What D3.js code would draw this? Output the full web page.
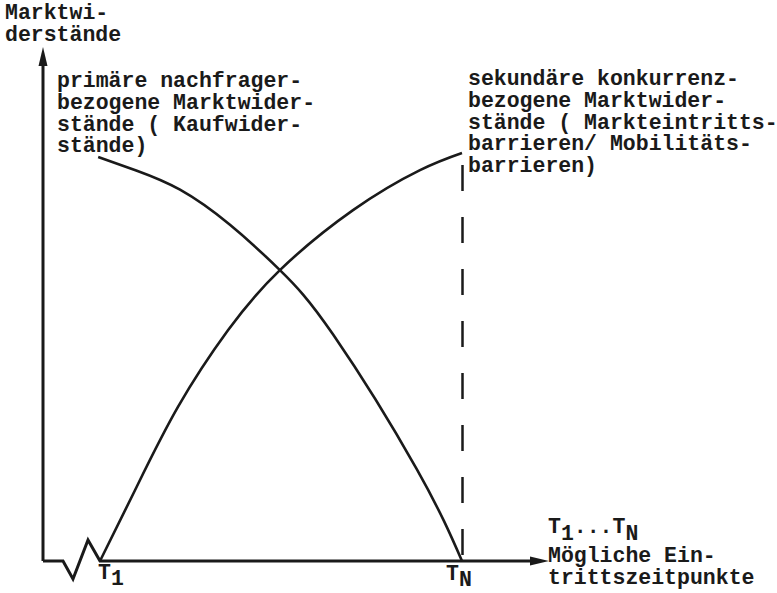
<!DOCTYPE html>
<html>
<head>
<meta charset="utf-8">
<script src="https://cdn.jsdelivr.net/npm/d3@7"></script>
<style>
  body { margin: 0; background: #fff; }
  text { font-family: "Courier New", Courier, "Nimbus Mono PS", FreeMono, "Liberation Mono", monospace; font-weight: bold; font-size: 21.5px; fill: #1a1a1a; }
</style>
</head>
<body>
<svg id="chart"></svg>
<script>
// time axis: 0 = T1, 10 = TN ; resistance in arbitrary units
const primaryX = [-0.05, 1.0, 2.21, 3.59, 4.97, 6.44, 8.75, 10];
const primaryY = [99, 95.7, 91, 82.4, 71.3, 55.5, 22.5, 0];
const secondaryX = [0, 0.97, 2.15, 3.54, 4.97, 6.99, 8.84, 10];
const secondaryY = [0, 17.4, 37.7, 56.6, 71.3, 86, 95.8, 100];

const yTitle = ['Marktwi-', 'derstände'];
const primaryLabel = ['primäre nachfrager-', 'bezogene Marktwider-', 'stände ( Kaufwider-', 'stände)'];
const secondaryLabel = ['sekundäre konkurrenz-', 'bezogene Marktwider-', 'stände ( Markteintritts-', 'barrieren/ Mobilitäts-', 'barrieren)'];
const xTitle = ['Mögliche Ein-', 'trittszeitpunkte'];

const svg = d3.select('#chart').attr('width', 777).attr('height', 593);

const x = d3.scaleLinear().domain([0, 10]).range([100, 462]);
const y = d3.scaleLinear().domain([0, 100]).range([561, 153]);
const ink = '#1a1a1a';

const line = d3.line()
  .x(d => x(d[0]))
  .y(d => y(d[1]))
  .curve(d3.curveNatural);

// axes
svg.append('path')
  .attr('d', `M43,${y(0)} L43,62`)
  .attr('stroke', ink).attr('stroke-width', 3).attr('fill', 'none');
svg.append('path')
  .attr('d', 'M43,47 L38.5,66 L47.5,66 Z')
  .attr('fill', ink);

svg.append('path')
  .attr('d', `M43,${y(0)} L63,${y(0)} L73,579 L88,540 L${x(0)},${y(0)} L532,${y(0)}`)
  .attr('stroke', ink).attr('stroke-width', 3).attr('fill', 'none').attr('stroke-linejoin', 'miter');
svg.append('path')
  .attr('d', `M549,${y(0)} L530,${y(0) - 4.5} L530,${y(0) + 4.5} Z`)
  .attr('fill', ink);

// dashed line at TN
svg.append('line')
  .attr('x1', x(10) + 0.5).attr('x2', x(10) + 0.5)
  .attr('y1', 165).attr('y2', y(0))
  .attr('stroke', ink).attr('stroke-width', 2.5)
  .attr('stroke-dasharray', '26,26');

// curves
svg.append('path')
  .datum(d3.zip(primaryX, primaryY))
  .attr('d', line)
  .attr('stroke', ink).attr('stroke-width', 2.6).attr('fill', 'none');
svg.append('path')
  .datum(d3.zip(secondaryX, secondaryY))
  .attr('d', line)
  .attr('stroke', ink).attr('stroke-width', 2.6).attr('fill', 'none');

// text blocks
const block = (lines, x0, y0, step) => {
  svg.append('g').selectAll('text')
    .data(lines)
    .enter()
    .append('text')
    .attr('x', x0)
    .attr('y', (d, i) => y0 + i * step)
    .attr('xml:space', 'preserve')
    .text(d => d);
};
block(yTitle, 5, 19, 22);
block(primaryLabel, 57, 87, 21.8);
block(secondaryLabel, 468, 85, 21.8);
block(xTitle, 548, 562, 22);

// T labels
const tLabel = (x0, y0, sub) => {
  const t = svg.append('text').attr('x', x0).attr('y', y0);
  t.append('tspan').text('T');
  t.append('tspan').attr('dy', 6).text(sub);
};
tLabel(x(0) - 2, 579, '1');
tLabel(x(10) - 16, 580, 'N');

const range = svg.append('text').attr('x', 548).attr('y', 533);
range.append('tspan').text('T');
range.append('tspan').attr('dy', 7).text('1');
range.append('tspan').attr('dy', -7).text('...T');
range.append('tspan').attr('dy', 7).text('N');
</script>
</body>
</html>
